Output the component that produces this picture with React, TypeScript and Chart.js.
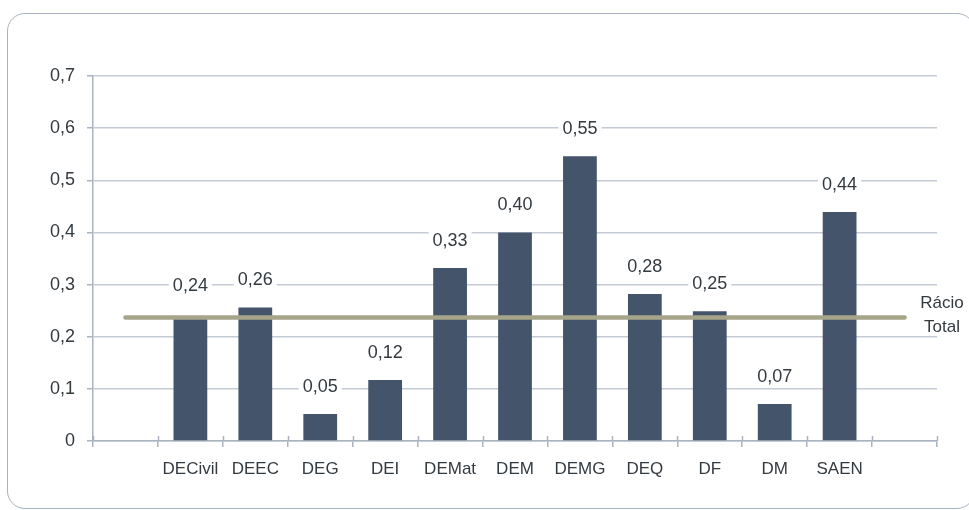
import React, { useEffect, useRef } from "react";
import { Chart, registerables } from "chart.js";

Chart.register(...registerables);

const categories = ["", "DECivil", "DEEC", "DEG", "DEI", "DEMat", "DEM", "DEMG", "DEQ", "DF", "DM", "SAEN", ""];
const ratios: (number | null)[] = [null, 0.238, 0.256, 0.052, 0.117, 0.332, 0.4, 0.546, 0.282, 0.249, 0.071, 0.439, null];
const totalRatio = 0.237;
const totalLabel = ["Rácio", "Total"];
const yMin = 0;
const yMax = 0.7;
const yStep = 0.1;

const FONT = '"Liberation Sans", Arial, sans-serif';
const TEXT = "#333a40";
const GRID = "#c5cbd4";
const AXIS = "#a9b3c1";
const BAR = "#44546a";
const LINE = "#a6a58a";

const fmt = (v: number, d: number) => (v === 0 ? "0" : v.toFixed(d).replace(".", ","));

const overlayPlugin = {
  id: "overlay",
  afterDatasetsDraw(chart: any) {
    const ctx = chart.ctx;
    const area = chart.chartArea;
    const y = chart.scales.y;
    ctx.save();
    // upper halves of x axis ticks
    ctx.strokeStyle = AXIS;
    ctx.lineWidth = 1.5;
    const n = categories.length;
    const w = (area.right - area.left) / n;
    for (let i = 0; i <= n; i++) {
      const px = Math.round(area.left + i * w) + 0.5;
      ctx.beginPath();
      ctx.moveTo(px, area.bottom - 5);
      ctx.lineTo(px, area.bottom);
      ctx.stroke();
    }
    // bar value labels
    const meta = chart.getDatasetMeta(0);
    const ly = y.getPixelForValue(totalRatio);
    ctx.font = `18px ${FONT}`;
    ctx.textAlign = "center";
    ctx.textBaseline = "middle";
    meta.data.forEach((el: any, i: number) => {
      const v = ratios[i];
      if (v == null) return;
      const text = fmt(v, 2);
      const top = Math.abs(el.y - ly) < 6 ? Math.min(el.y, ly) - 4 : el.y;
      const cy = top - 28;
      const tw = ctx.measureText(text).width;
      ctx.fillStyle = "#ffffff";
      ctx.fillRect(el.x - tw / 2 - 4, cy - 9, tw + 8, 18);
      ctx.fillStyle = TEXT;
      ctx.fillText(text, el.x, cy + 1);
    });
    // total ratio label
    ctx.font = `17px ${FONT}`;
    ctx.fillStyle = TEXT;
    ctx.fillText(totalLabel[0], area.right + 5, ly - 14);
    ctx.fillText(totalLabel[1], area.right + 5, ly + 10);
    ctx.restore();
  },
};

export default function App() {
  const ref = useRef<HTMLCanvasElement | null>(null);

  useEffect(() => {
    if (!ref.current) return;
    const chart = new Chart(ref.current, {
      type: "bar",
      data: {
        labels: categories,
        datasets: [
          {
            type: "bar",
            data: ratios as any,
            backgroundColor: BAR,
            barPercentage: 0.52,
            categoryPercentage: 1,
            order: 2,
          },
          {
            type: "line",
            data: categories.map(() => totalRatio),
            borderColor: LINE,
            borderWidth: 4.5,
            borderCapStyle: "round",
            pointRadius: 0,
            fill: false,
            order: 1,
          } as any,
        ],
      },
      options: {
        responsive: false,
        animation: false,
        layout: { padding: { left: 0, top: 76, right: 32, bottom: 0 } },
        plugins: { legend: { display: false }, tooltip: { enabled: false } },
        scales: {
          x: {
            type: "category",
            offset: true,
            grid: {
              display: true,
              offset: true,
              drawOnChartArea: false,
              drawTicks: true,
              tickLength: 6,
              color: AXIS,
              lineWidth: 1.5,
            },
            border: { display: true, color: AXIS, width: 1.5 },
            ticks: {
              color: TEXT,
              font: { family: FONT, size: 17 },
              padding: 12,
              autoSkip: false,
              maxRotation: 0,
            },
            afterFit: (s: any) => {
              s.height = 69;
            },
          },
          y: {
            min: yMin,
            max: yMax,
            grid: {
              color: GRID,
              lineWidth: 1.5,
              tickLength: 6,
              tickColor: AXIS,
            },
            border: { display: true, color: AXIS, width: 1.5 },
            ticks: {
              stepSize: yStep,
              color: TEXT,
              font: { family: FONT, size: 18 },
              padding: 12,
              callback: (v: any) => fmt(Number(v), 1),
            },
            afterFit: (s: any) => {
              s.width = 93;
            },
          },
        },
      },
      plugins: [overlayPlugin],
    });
    return () => chart.destroy();
  }, []);

  return (
    <div
      style={{
        position: "fixed",
        left: 0,
        top: 0,
        width: 969,
        height: 510,
        overflow: "hidden",
        background: "#ffffff",
      }}
    >
      <div
        style={{
          position: "absolute",
          left: 7,
          top: 13,
          width: 968,
          height: 496,
          border: "1.5px solid #aab2bf",
          borderRadius: 18,
          boxSizing: "border-box",
        }}
      />
      <canvas ref={ref} width={969} height={510} style={{ position: "absolute", left: 0, top: 0 }} />
    </div>
  );
}
